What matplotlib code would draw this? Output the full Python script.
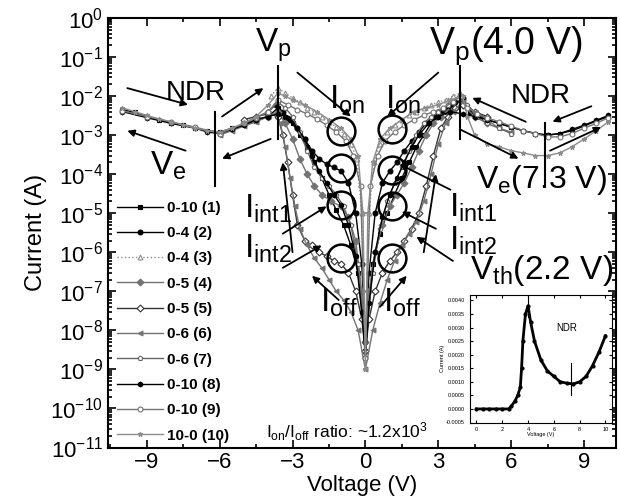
import numpy as np
import matplotlib
matplotlib.use("Agg")
import matplotlib.pyplot as plt
from matplotlib.ticker import LogLocator, MultipleLocator, NullFormatter

plt.rcParams['font.family'] = ['Liberation Sans', 'DejaVu Sans']
plt.rcParams['mathtext.fontset'] = 'custom'
plt.rcParams['mathtext.rm'] = 'Liberation Sans'
plt.rcParams['mathtext.it'] = 'Liberation Sans'
plt.rcParams['mathtext.default'] = 'regular'

# ---- data ----
labels = ['0-10 (1)', '0-4 (2)', '0-4 (3)', '0-5 (4)', '0-5 (5)',
          '0-6 (6)', '0-6 (7)', '0-10 (8)', '0-10 (9)', '10-0 (10)']

v1 = [-10, -9.5, -9, -8.5, -8, -7.5, -7, -6.5, -6, -5.5, -5, -4.5, -4, -3.6, -3.3, -3, -2.7, -2.4, -2.1,
      -1.8, -1.5, -1.2, -0.9, -0.6, -0.3, 0, 0.3, 0.6, 0.9, 1.2, 1.5, 1.8, 2.1, 2.4, 2.7, 3.0, 3.3, 3.6,
      4.0, 4.3, 4.7, 5, 5.5, 6, 6.5, 7, 7.5, 8, 8.5, 9, 9.5, 10]
i1 = [4.5e-3, 3.8e-3, 3.0e-3, 2.5e-3, 2.1e-3, 1.8e-3, 1.5e-3, 1.3e-3, 1.2e-3, 1.5e-3, 1.9e-3, 2.3e-3,
      3.0e-3, 5e-3, 3e-3, 2e-3, 1e-3, 5e-4, 2e-4, 8e-5, 3e-5, 1.2e-5, 5e-6, 1.5e-6, 3e-7, 3e-9,
      5e-7, 3e-6, 1e-5, 3e-5, 8e-5, 2e-4, 5e-4, 1e-3, 2e-3, 3e-3, 4e-3, 6e-3, 8e-3, 4e-3, 3e-3,
      2.5e-3, 2e-3, 1.6e-3, 1.3e-3, 1.1e-3, 1e-3, 1.1e-3, 1.3e-3, 1.7e-3, 2.3e-3, 3e-3]

v2 = [-4, -3.7, -3.4, -3.1, -2.8, -2.5, -2.2, -1.9, -1.6, -1.3, -1, -0.7, -0.4, -0.15, 0,
      0.15, 0.4, 0.7, 1.0, 1.3, 1.6, 1.9, 2.2, 2.5, 2.8, 3.1, 3.4, 3.7, 4.0]
i2 = [4e-3, 6e-3, 4e-3, 2.5e-3, 1.5e-3, 8e-4, 4e-4, 2.5e-4, 1.8e-4, 1.5e-4, 1.2e-4, 6e-5, 1e-5,
      5e-7, 5e-9, 3e-7, 1e-5, 6e-5, 1.2e-4, 2e-4, 4e-4, 7e-4, 1.2e-3, 2e-3, 3e-3, 4e-3, 5e-3,
      7e-3, 9e-3]

v3 = [-3.9, -3.6, -3.3, -3, -2.7, -2.4, -2.1, -1.8, -1.5, -1.2, -0.9, -0.6, -0.35, -0.15, 0,
      0.15, 0.35, 0.6, 0.9, 1.2, 1.5, 1.8, 2.1, 2.4, 2.7, 3, 3.3, 3.6, 3.9]
i3 = [1e-2, 1.6e-2, 1.2e-2, 9e-3, 7e-3, 5e-3, 4e-3, 3e-3, 2.2e-3, 1.6e-3, 1.1e-3, 6e-4, 2.5e-4,
      1e-5, 3e-9, 1e-5, 2e-4, 6e-4, 1.2e-3, 1.8e-3, 2.5e-3, 3.2e-3, 4e-3, 5e-3, 6e-3, 7e-3, 8e-3,
      1e-2, 1.2e-2]

v4 = [-5, -4.5, -4, -3.6, -3.3, -3, -2.7, -2.4, -2.1, -1.8, -1.4, -1, -0.7, -0.4, -0.15, 0,
      0.15, 0.4, 0.7, 1.0, 1.3, 1.6, 1.9, 2.2, 2.5, 2.8, 3.1, 3.4, 3.7, 4.0, 4.5, 5.0]
i4 = [2e-3, 2.5e-3, 3e-3, 4e-3, 2e-3, 8e-4, 2.5e-4, 1e-4, 5e-5, 3e-5, 2e-5, 1.5e-5, 8e-6, 2e-6,
      1e-7, 5e-9, 1e-7, 1e-6, 5e-6, 1.5e-5, 3e-5, 6e-5, 1.5e-4, 4e-4, 1e-3, 2e-3, 3e-3, 4e-3,
      5e-3, 6e-3, 3e-3, 2e-3]

v5 = [-5, -4.5, -4, -3.6, -3.4, -3.2, -3.0, -2.8, -2.5, -2.2, -1.9, -1.6, -1.3, -1, -0.7, -0.4,
      -0.15, 0, 0.15, 0.4, 0.7, 1.0, 1.3, 1.6, 1.9, 2.2, 2.5, 2.8, 3.1, 3.4, 3.7, 4.0, 4.5, 5]
i5 = [2.5e-3, 3e-3, 3.5e-3, 3e-3, 1e-3, 2e-4, 3e-5, 5e-6, 2e-6, 1.5e-6, 1e-6, 8e-7, 6e-7, 5e-7,
      3e-7, 1e-7, 2e-8, 3e-9, 2e-8, 1e-7, 3e-7, 6e-7, 1e-6, 2e-6, 4e-6, 1e-5, 5e-5, 3e-4, 1.5e-3,
      3e-3, 5e-3, 6e-3, 4e-3, 3e-3]

v6 = [-6, -5.5, -5, -4.5, -4, -3.7, -3.5, -3.3, -3.1, -2.9, -2.7, -2.4, -2.1, -1.8, -1.5, -1.2,
      -0.9, -0.6, -0.3, 0, 0.3, 0.6, 0.9, 1.2, 1.5, 1.8, 2.1, 2.4, 2.7, 3.0, 3.3, 3.6, 4.0, 4.5,
      5, 5.5, 6]
i6 = [1e-3, 1.3e-3, 1.7e-3, 2.2e-3, 3e-3, 3.5e-3, 2e-3, 5e-4, 8e-5, 1.5e-5, 4e-6, 1.5e-6, 7e-7,
      4e-7, 2e-7, 1e-7, 6e-8, 3e-8, 1e-8, 1e-9, 1e-8, 5e-8, 2e-7, 6e-7, 1.5e-6, 3e-6, 6e-6, 2e-5,
      1e-4, 6e-4, 2e-3, 4e-3, 7e-3, 4e-3, 2.5e-3, 1.5e-3, 1.2e-3]

v7 = [-6, -5, -4, -3.6, -3.3, -3, -2.7, -2.4, -2.1, -1.8, -1.5, -1.2, -0.9, -0.6, -0.3, 0,
      0.3, 0.6, 0.9, 1.2, 1.5, 1.8, 2.1, 2.4, 2.7, 3.0, 3.4, 3.8, 4.2, 4.6, 5, 5.5, 6]
i7 = [1.1e-3, 2e-3, 4e-3, 7e-3, 5e-3, 3e-3, 1.2e-3, 4e-4, 1.5e-4, 8e-5, 5e-5, 3e-5, 1.5e-5, 5e-6,
      5e-7, 5e-9, 3e-7, 4e-6, 2e-5, 6e-5, 1.5e-4, 4e-4, 1e-3, 2e-3, 3e-3, 4e-3, 6e-3, 9e-3, 6e-3,
      3e-3, 2e-3, 1.5e-3, 1.1e-3]

v8 = [-10, -9, -8, -7, -6.5, -6, -5.5, -5, -4.5, -4, -3.6, -3.2, -2.8, -2.5, -2.2, -1.9, -1.6,
      -1.3, -1, -0.7, -0.4, -0.15, 0, 0.15, 0.4, 0.7, 1.0, 1.3, 1.6, 1.9, 2.2, 2.6, 3.0, 3.5, 4.0,
      4.5, 5, 5.5, 6, 6.5, 7, 7.5, 8, 8.5, 9, 9.5, 10]
i8 = [4e-3, 2.8e-3, 2e-3, 1.5e-3, 1.2e-3, 1.1e-3, 1.4e-3, 1.8e-3, 2.5e-3, 3e-3, 3.5e-3, 2.8e-3,
      1.5e-3, 8e-4, 3e-4, 1.2e-4, 6e-5, 3e-5, 1.6e-5, 5e-6, 8e-7, 3e-8, 2e-9, 5e-8, 1e-6, 8e-6,
      3e-5, 8e-5, 2e-4, 5e-4, 1e-3, 2e-3, 3e-3, 4e-3, 3.5e-3, 3e-3, 2.5e-3, 2e-3, 1.6e-3, 1.3e-3,
      1.1e-3, 1e-3, 1.1e-3, 1.4e-3, 1.8e-3, 2.4e-3, 3.2e-3]

v9 = [-10, -9, -8, -7, -6, -5, -4.5, -4, -3.6, -3.2, -2.8, -2.4, -2, -1.6, -1.2, -0.8, -0.5,
      -0.2, 0, 0.2, 0.5, 0.8, 1.2, 1.6, 2.0, 2.4, 2.8, 3.2, 3.6, 3.9, 4.2, 4.6, 5, 5.5, 6, 6.5,
      7, 7.5, 8, 8.5, 9, 9.5, 10]
i9 = [4.2e-3, 3e-3, 2.2e-3, 1.6e-3, 1.1e-3, 2e-3, 2.8e-3, 4e-3, 8e-3, 6e-3, 4.5e-3, 3.5e-3,
      2.6e-3, 1.8e-3, 1.2e-3, 7e-4, 3e-4, 5e-5, 2e-9, 5e-5, 3e-4, 7e-4, 1.2e-3, 1.8e-3, 2.5e-3,
      3.2e-3, 4e-3, 5e-3, 7e-3, 1e-2, 5e-3, 3.5e-3, 2.8e-3, 2.2e-3, 1.7e-3, 1.3e-3, 1.1e-3,
      9e-4, 9e-4, 1.1e-3, 1.5e-3, 2e-3, 2.8e-3]

v10 = [-10, -9.5, -9, -8.5, -8, -7.5, -7, -6.5, -6, -5.5, -5, -4.5, -4, -3.6, -3.3, -3, -2.5, -2,
       -1.5, -1, -0.6, -0.3, -0.1, 0, 0.1, 0.3, 0.6, 1, 1.5, 2, 2.5, 3, 3.5, 4, 4.2, 4.5, 5, 5.5,
       6, 6.5, 7, 7.5, 8, 8.5, 9, 9.5, 10]
i10 = [5e-3, 4e-3, 3.2e-3, 2.6e-3, 2.2e-3, 1.8e-3, 1.5e-3, 1.3e-3, 1.2e-3, 1.5e-3, 2e-3, 3e-3,
       6e-3, 1.2e-2, 1e-2, 8e-3, 6e-3, 4e-3, 2.5e-3, 1.5e-3, 8e-4, 3e-4, 1e-5, 1e-9, 1e-5, 2e-4,
       8e-4, 1.5e-3, 2.5e-3, 4e-3, 5e-3, 6e-3, 8e-3, 1e-2, 3e-3, 1e-3, 6e-4, 5e-4, 4e-4, 3.5e-4,
       3e-4, 3e-4, 3.5e-4, 5e-4, 8e-4, 1.3e-3, 2.2e-3]

# inset (linear current vs voltage)
inset_v = [0, 0.5, 1, 1.5, 2, 2.5, 2.7, 3.0, 3.2, 3.4, 3.5, 3.6, 3.8, 4.0, 4.2, 4.5, 5, 5.5, 6,
           6.5, 7, 7.5, 8, 8.5, 9, 9.5, 10]
inset_i = [0, 0, 0, 0, 0, 0, 0.0001, 0.0003, 0.0005, 0.0008, 0.0015, 0.0025, 0.0035, 0.0038,
           0.0032, 0.0025, 0.0018, 0.0014, 0.0012, 0.001, 0.00095, 0.00092, 0.001, 0.0012,
           0.0016, 0.0021, 0.0027]

# marked points (open circles) on the I_on / I_int1 / I_int2 / I_off branches
circ_v = [-1.0, -1.0, -1.0, -1.0, 1.1, 1.1, 1.1, 1.1]
circ_i = [1.3e-3, 1.4e-4, 1.6e-5, 7e-7, 1.4e-3, 1.3e-4, 1.5e-5, 7e-7]

series = [(v1, i1), (v2, i2), (v3, i3), (v4, i4), (v5, i5),
          (v6, i6), (v7, i7), (v8, i8), (v9, i9), (v10, i10)]
styles = [
    dict(color='black', marker='s', mfc='black', ls='-'),
    dict(color='black', marker='o', mfc='black', ls='-'),
    dict(color='0.55', marker='^', mfc='white', ls=':'),
    dict(color='0.45', marker='D', mfc='0.45', ls='-'),
    dict(color='0.2', marker='D', mfc='white', ls='-'),
    dict(color='0.45', marker='<', mfc='0.45', ls='-'),
    dict(color='0.4', marker='p', mfc='white', ls='-'),
    dict(color='black', marker='h', mfc='black', ls='-'),
    dict(color='0.45', marker='o', mfc='white', ls='-'),
    dict(color='0.55', marker='*', mfc='0.55', ls='-'),
]

fig = plt.figure(figsize=(6.2, 5.0), dpi=100)
ax = fig.add_axes([0.174, 0.105, 0.819, 0.859])

for (v, i), lab, st in zip(series, labels, styles):
    ax.plot(v, i, lw=1.0, ms=3.5, mew=0.8, label=lab, **st)

ax.plot(circ_v, circ_i, ls='none', marker='o', ms=20, mfc='none', mec='black', mew=1.8)

ax.set_yscale('log')
ax.set_ylim(1e-11, 1e0)
ax.set_xlim(-10.6, 10.3)
ax.yaxis.set_major_locator(LogLocator(base=10, numticks=20))
ax.yaxis.set_minor_locator(LogLocator(base=10, subs=np.arange(2, 10), numticks=20))
ax.yaxis.set_minor_formatter(NullFormatter())
ax.set_xticks([-9, -6, -3, 0, 3, 6, 9])
ax.xaxis.set_minor_locator(MultipleLocator(1.5))
ax.tick_params(which='both', direction='in', top=True, right=True, width=1.2)
ax.tick_params(which='major', length=6, labelsize=16)
ax.tick_params(which='minor', length=3)
for s in ax.spines.values():
    s.set_linewidth(1.5)

ax.set_xlabel('Voltage (V)', fontsize=16, labelpad=1)
ax.set_ylabel('Current (A)', fontsize=17, labelpad=2)

leg = ax.legend(loc='lower left', bbox_to_anchor=(0.0, -0.01), frameon=False,
                handlelength=3.0, handletextpad=0.3, labelspacing=0.74,
                prop={'weight': 'bold', 'size': 11}, borderaxespad=0.2)

# text annotations
big = 24
ax.text(-7.0, 1.2e-2, 'NDR', fontsize=20, ha='center', va='center')
ax.text(-8.1, 1.6e-4, r'V$_e$', fontsize=big, ha='center', va='center')
ax.text(-3.8, 2.0e-1, r'V$_p$', fontsize=big, ha='center', va='center')
ax.text(-1.5, 8e-3, r'I$_{on}$', fontsize=big, ha='left', va='center')
ax.text(0.8, 8e-3, r'I$_{on}$', fontsize=big, ha='left', va='center')
ax.text(2.6, 2.0e-1, r'V$_p$(4.0 V)', fontsize=27, ha='left', va='center')
ax.text(7.2, 1.0e-2, 'NDR', fontsize=20, ha='center', va='center')
ax.text(9.95, 7e-5, r'V$_e$(7.3 V)', fontsize=23, ha='right', va='center')
ax.text(-5.0, 1.3e-5, r'I$_{int1}$', fontsize=big, ha='left', va='center')
ax.text(-5.0, 1.2e-6, r'I$_{int2}$', fontsize=big, ha='left', va='center')
ax.text(3.45, 1.4e-5, r'I$_{int1}$', fontsize=big, ha='left', va='center')
ax.text(3.45, 2.0e-6, r'I$_{int2}$', fontsize=big, ha='left', va='center')
ax.text(4.3, 3.5e-7, r'V$_{th}$(2.2 V)', fontsize=big, ha='left', va='center')
ax.text(-1.1, 5e-8, r'I$_{off}$', fontsize=big, ha='center', va='center')
ax.text(1.5, 5e-8, r'I$_{off}$', fontsize=big, ha='center', va='center')
ax.text(-4.1, 2.5e-11, r'I$_{on}$/I$_{off}$ ratio: ~1.2x10$^3$', fontsize=12.5,
        ha='left', va='center')

# marker lines
ax.plot([-6.2, -6.2], [4e-3, 5e-5], color='black', lw=1.5)
ax.plot([-3.6, -3.6], [6e-2, 8e-4], color='black', lw=1.5)
ax.plot([3.9, 3.9], [6e-2, 8e-4], color='black', lw=1.5)
ax.plot([7.4, 7.4], [2e-3, 5e-5], color='black', lw=1.5)

arrows = [
    ((-9.8, 1.6e-2), (-7.3, 6e-3)),
    ((-7.4, 4e-4), (-9.8, 1.3e-3)),
    ((-5.9, 3e-3), (-4.2, 1.6e-2)),
    ((-3.9, 8e-4), (-5.9, 2.5e-4)),
    ((-2.8, 4e-2), (-0.6, 3e-3)),
    ((3.0, 4e-2), (0.9, 3e-3)),
    ((6.6, 2.2e-3), (4.4, 9e-3)),
    ((9.3, 5.5e-3), (7.7, 2.2e-3)),
    ((7.6, 4e-4), (9.7, 1.6e-3)),
    ((3.9, 1.4e-3), (6.3, 2.5e-4)),
    ((-3.4, 3e-6), (-1.6, 1.5e-5)),
    ((-3.4, 4e-7), (-1.8, 1.5e-6)),
    ((-3.0, 1e-6), (-3.4, 2e-4)),
    ((-1.1, 6e-8), (-2.2, 2.5e-7)),
    ((0.6, 4e-8), (1.7, 2.5e-7)),
    ((3.6, 6e-7), (2.1, 2.5e-6)),
    ((3.5, 4e-5), (1.4, 1.8e-4)),
    ((2.9, 4e-6), (1.5, 1.1e-5)),
    ((2.4, 1e-6), (2.9, 1e-4)),
]
for (x0, y0), (x1, y1) in arrows:
    ax.annotate('', xy=(x1, y1), xytext=(x0, y0),
                arrowprops=dict(arrowstyle='-|>', color='black', lw=1.3,
                                mutation_scale=10, shrinkA=0, shrinkB=0))

# inset
ins = fig.add_axes([0.758, 0.155, 0.229, 0.255])
ins.plot(inset_v, inset_i, color='black', lw=2.0, marker='o', ms=2)
ins.set_xlim(-0.5, 10.5)
ins.set_ylim(-0.0005, 0.0042)
ins.set_xticks([0, 2, 4, 6, 8, 10])
ins.set_yticks([-0.0005, 0, 0.0005, 0.001, 0.0015, 0.002, 0.0025, 0.003, 0.0035, 0.004])
ins.set_yticklabels(['%.4f' % t for t in ins.get_yticks()])
ins.tick_params(direction='in', labelsize=4, length=2, top=True, right=True)
ins.set_xlabel('Voltage (V)', fontsize=4, labelpad=0)
ins.set_ylabel('Current (A)', fontsize=4, labelpad=1)
ins.text(7.0, 0.003, 'NDR', fontsize=7, ha='center', va='center')
ins.plot([4.0, 4.0], [0.0034, 0.0042], color='black', lw=0.8)
ins.plot([7.3, 7.3], [0.0005, 0.0017], color='black', lw=0.8)

fig.savefig('out.png', dpi=100)
